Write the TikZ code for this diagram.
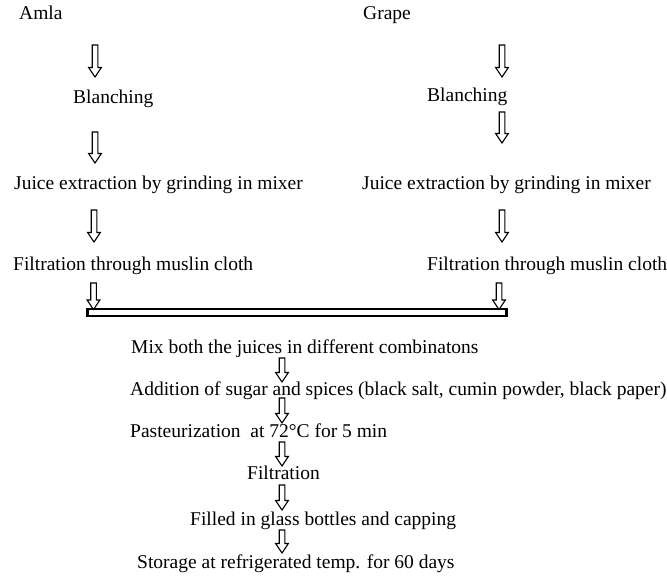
\documentclass[tikz,border=0pt]{standalone}
\usepackage{fontspec}
\setmainfont{Liberation Serif}
\usetikzlibrary{calc}
\begin{document}
\begin{tikzpicture}[x=1pt,y=-1pt,
  txt/.style={anchor=base west,inner sep=0pt,font=\fontsize{19.5}{23}\selectfont},
  hollow/.style={draw=black,line width=1.1pt,fill=white,line join=miter,
    to path={let \p1=(\tikztostart), \p2=(\tikztotarget) in
      (\x1-2.8pt,\y1) -- (\x1+2.8pt,\y1) -- (\x1+2.8pt,\y2+9.5pt) -- (\x1+6.4pt,\y2+9.5pt)
      -- (\x1,\y2) -- (\x1-6.4pt,\y2+9.5pt) -- (\x1-2.8pt,\y2+9.5pt) -- cycle}}
]
\useasboundingbox (0,0) rectangle (667,578);
% left column
\node[txt] (amla) at (19,20) {Amla};
\node[txt] (blL) at (73,103) {Blanching};
\node[txt] (juL) at (14,189) {Juice extraction by grinding in mixer};
\node[txt] (fiL) at (13,270) {Filtration through muslin cloth};
% right column
\node[txt] (grape) at (363,20) {Grape};
\node[txt] (blR) at (427,102) {Blanching};
\node[txt] (juR) at (362,189) {Juice extraction by grinding in mixer};
\node[txt] (fiR) at (427,270) {Filtration through muslin cloth};
% bar
\node[draw,line width=2.2pt,fill=white,minimum width=419pt,minimum height=6.5pt,inner sep=0pt] (bar) at (297,312.5) {};
% centre column
\node[txt] (mix) at (131,353) {Mix both the juices in different combinatons};
\node[txt] (add) at (130,395) {Addition of sugar and spices (black salt, cumin powder, black paper)};
\node[txt] (past) at (130,437) {Pasteurization\ \ at 72°C for 5 min};
\node[txt] (filt) at (247,479) {Filtration};
\node[txt] (fill) at (190,525) {Filled in glass bottles and capping};
\node[txt] (stor) at (137,568) {Storage at refrigerated temp. for 60 days};
% arrow end points
\coordinate (l1s) at (95,45);  \coordinate (l1e) at (95,77);
\coordinate (l2s) at (95,132); \coordinate (l2e) at (95,163);
\coordinate (l3s) at (94,210); \coordinate (l3e) at (94,242);
\coordinate (l4s) at (93.5,283); \coordinate (l4e) at (93.5,309.5);
\coordinate (r1s) at (502,45);  \coordinate (r1e) at (502,77);
\coordinate (r2s) at (502,112); \coordinate (r2e) at (502,143);
\coordinate (r3s) at (502,210); \coordinate (r3e) at (502,242);
\coordinate (r4s) at (499,283); \coordinate (r4e) at (499,309.5);
\coordinate (c1s) at (282,358); \coordinate (c1e) at (282,382);
\coordinate (c2s) at (282,398); \coordinate (c2e) at (282,423);
\coordinate (c3s) at (282,442); \coordinate (c3e) at (282,466);
\coordinate (c4s) at (282,485); \coordinate (c4e) at (282,510);
\coordinate (c5s) at (282,530); \coordinate (c5e) at (282,553);
\foreach \a in {l1,l2,l3,l4,r1,r2,r3,r4,c1,c2,c3,c4,c5}
  \draw[hollow] (\a s) to (\a e);
\end{tikzpicture}
\end{document}
